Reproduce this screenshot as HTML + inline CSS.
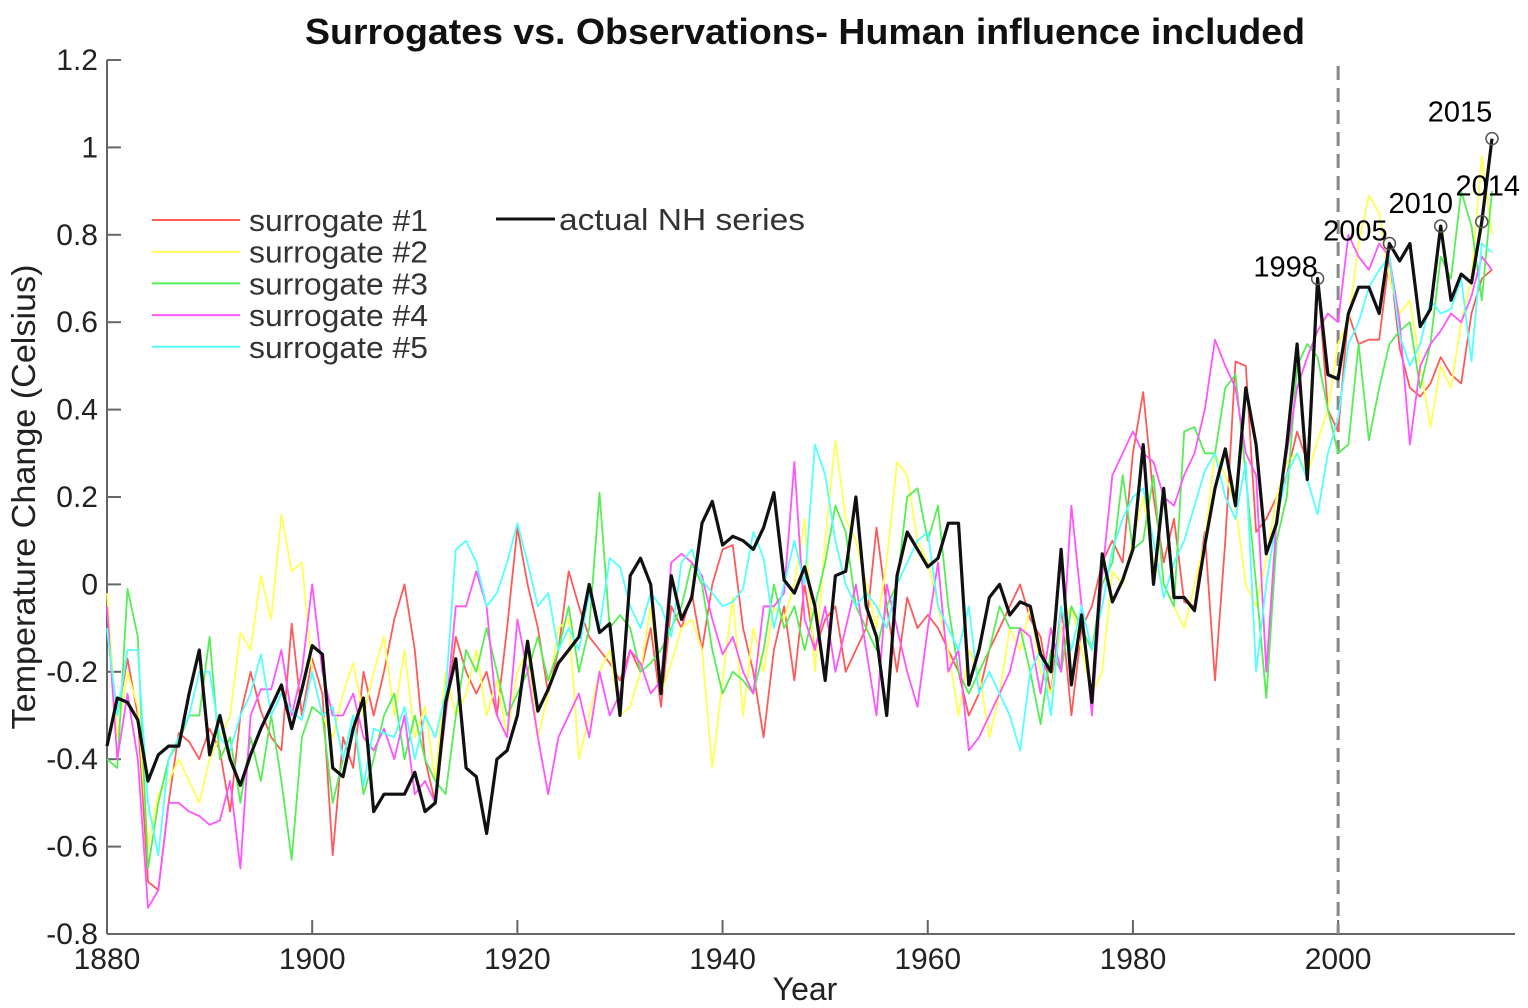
<!DOCTYPE html>
<html><head><meta charset="utf-8">
<style>
html,body{margin:0;padding:0;background:#fff;}
svg{display:block;font-family:"Liberation Sans",Arial,sans-serif;}
</style></head>
<body>
<svg id="chart" width="1528" height="1008" viewBox="0 0 1528 1008" xmlns="http://www.w3.org/2000/svg">
<text x="805" y="44" font-size="36" font-weight="bold" text-anchor="middle" fill="#111" textLength="1000" lengthAdjust="spacingAndGlyphs">Surrogates vs. Observations- Human influence included</text>
<text x="805" y="1000" font-size="32" text-anchor="middle" fill="#222">Year</text>
<text transform="translate(35,497) rotate(-90)" font-size="33" text-anchor="middle" fill="#222" textLength="465" lengthAdjust="spacingAndGlyphs">Temperature Change (Celsius)</text>
<g id="axes"></g>
<g id="series"></g>
<g id="legend"></g>
<g id="annots"></g>
</svg>
<script>
const startYear = 1880;
const yTicks = [-0.8,-0.6,-0.4,-0.2,0,0.2,0.4,0.6,0.8,1,1.2];
const yTickLabels = ["-0.8","-0.6","-0.4","-0.2","0","0.2","0.4","0.6","0.8","1","1.2"];
const xTicks = [1880,1900,1920,1940,1960,1980,2000];
const actualNH = [-0.37,-0.26,-0.27,-0.31,-0.45,-0.39,-0.37,-0.37,-0.25,-0.15,
-0.39,-0.30,-0.40,-0.46,-0.39,-0.33,-0.28,-0.23,-0.33,-0.24,
-0.14,-0.16,-0.42,-0.44,-0.33,-0.26,-0.52,-0.48,-0.48,-0.48,
-0.43,-0.52,-0.50,-0.27,-0.17,-0.42,-0.44,-0.57,-0.40,-0.38,
-0.30,-0.13,-0.29,-0.24,-0.18,-0.15,-0.12,0.0,-0.11,-0.09,
-0.30,0.02,0.06,0.0,-0.25,0.02,-0.08,-0.03,0.14,0.19,
0.09,0.11,0.10,0.08,0.13,0.21,0.01,-0.02,0.04,-0.05,
-0.22,0.02,0.03,0.20,-0.05,-0.12,-0.30,0.02,0.12,0.08,
0.04,0.06,0.14,0.14,-0.23,-0.15,-0.03,0.0,-0.07,-0.04,
-0.05,-0.16,-0.20,0.08,-0.23,-0.07,-0.27,0.07,-0.04,0.01,
0.08,0.32,0.0,0.22,-0.03,-0.03,-0.06,0.09,0.22,0.31,
0.18,0.45,0.32,0.07,0.14,0.32,0.55,0.24,0.70,0.48,
0.47,0.62,0.68,0.68,0.62,0.78,0.74,0.78,0.59,0.63,
0.82,0.65,0.71,0.69,0.83,1.02];
const surrogate1 = [-0.10,-0.30,-0.17,-0.30,-0.68,-0.70,-0.50,-0.34,-0.36,-0.40,
-0.33,-0.38,-0.52,-0.30,-0.20,-0.29,-0.35,-0.38,-0.09,-0.30,
-0.17,-0.25,-0.62,-0.35,-0.42,-0.20,-0.30,-0.20,-0.08,0.0,
-0.15,-0.40,-0.50,-0.30,-0.12,-0.20,-0.25,-0.20,-0.30,-0.10,
0.13,0.0,-0.10,-0.25,-0.15,0.03,-0.05,-0.12,-0.15,-0.18,
-0.22,-0.15,-0.20,-0.10,-0.28,-0.05,-0.10,-0.02,-0.15,0.00,
0.08,0.09,-0.10,-0.20,-0.35,-0.15,-0.05,-0.22,0.0,-0.15,
-0.08,-0.05,-0.20,-0.15,-0.10,0.13,-0.05,-0.20,-0.03,-0.10,
-0.07,-0.10,-0.15,-0.20,-0.30,-0.25,-0.15,-0.10,-0.05,0.0,
-0.08,-0.12,-0.25,-0.05,-0.30,-0.10,-0.05,0.05,0.10,0.05,
0.30,0.44,0.20,0.05,0.15,-0.04,-0.05,0.12,-0.22,0.10,
0.51,0.50,0.12,0.15,0.20,0.25,0.35,0.28,0.70,0.40,
0.35,0.62,0.55,0.56,0.56,0.75,0.54,0.45,0.43,0.46,
0.52,0.48,0.46,0.62,0.70,0.72];
const surrogate2 = [-0.02,-0.35,-0.20,-0.28,-0.60,-0.48,-0.45,-0.40,-0.45,-0.50,
-0.40,-0.35,-0.30,-0.11,-0.15,0.02,-0.08,0.16,0.03,0.05,
-0.20,-0.30,-0.35,-0.25,-0.18,-0.30,-0.20,-0.12,-0.30,-0.15,
-0.35,-0.28,-0.45,-0.20,-0.30,-0.25,-0.15,-0.30,-0.22,-0.35,
-0.20,-0.15,-0.35,-0.25,-0.10,-0.08,-0.40,-0.30,-0.20,-0.15,
-0.30,-0.28,-0.20,-0.05,-0.25,-0.18,-0.10,-0.08,-0.15,-0.42,
-0.22,-0.03,-0.30,-0.10,-0.20,-0.05,-0.08,0.00,0.15,-0.20,
0.10,0.33,0.15,0.10,0.0,-0.10,0.05,0.28,0.25,0.10,
0.05,-0.05,-0.15,-0.30,-0.15,-0.20,-0.35,-0.25,-0.10,-0.15,
-0.05,-0.20,-0.25,-0.10,-0.05,-0.15,-0.25,-0.20,0.03,0.0,
0.10,0.20,0.05,0.0,-0.05,-0.10,0.00,0.10,0.30,0.25,
0.18,0.0,-0.05,0.06,0.20,0.28,0.30,0.25,0.33,0.40,
0.55,0.60,0.78,0.89,0.85,0.70,0.62,0.65,0.50,0.36,
0.50,0.45,0.60,0.70,0.98,0.80];
const surrogate3 = [-0.40,-0.42,-0.01,-0.12,-0.65,-0.50,-0.40,-0.36,-0.30,-0.30,
-0.12,-0.40,-0.35,-0.50,-0.35,-0.45,-0.30,-0.45,-0.63,-0.35,
-0.28,-0.30,-0.50,-0.40,-0.30,-0.48,-0.40,-0.30,-0.25,-0.40,
-0.30,-0.40,-0.45,-0.48,-0.30,-0.15,-0.20,-0.10,-0.20,-0.30,
-0.25,-0.20,-0.12,-0.22,-0.15,-0.05,-0.20,-0.10,0.21,-0.10,
-0.07,-0.10,-0.20,-0.18,-0.15,-0.10,-0.05,0.05,0.0,-0.15,
-0.25,-0.20,-0.22,-0.25,-0.15,0.00,-0.10,-0.05,-0.15,-0.05,
0.05,0.18,0.12,-0.05,-0.10,-0.15,-0.05,0.0,0.20,0.22,
0.10,0.18,-0.05,-0.20,-0.25,-0.20,-0.15,-0.05,-0.10,-0.10,
-0.20,-0.32,-0.15,-0.20,-0.05,-0.10,-0.15,0.00,0.05,0.25,
0.08,0.10,0.25,0.0,-0.05,0.35,0.36,0.30,0.30,0.45,
0.48,0.25,0.0,-0.26,0.10,0.20,0.50,0.55,0.52,0.40,
0.30,0.32,0.55,0.33,0.45,0.55,0.58,0.60,0.45,0.55,
0.75,0.70,0.90,0.82,0.65,0.90];
const surrogate4 = [-0.05,-0.40,-0.25,-0.40,-0.74,-0.70,-0.50,-0.50,-0.52,-0.53,
-0.55,-0.54,-0.45,-0.65,-0.30,-0.24,-0.24,-0.15,-0.30,-0.20,
0.00,-0.20,-0.30,-0.30,-0.25,-0.35,-0.38,-0.33,-0.40,-0.30,
-0.48,-0.45,-0.50,-0.30,-0.05,-0.05,0.03,-0.05,-0.30,-0.35,
-0.08,-0.20,-0.35,-0.48,-0.35,-0.30,-0.25,-0.35,-0.20,-0.30,
-0.25,-0.15,-0.18,-0.25,-0.22,0.05,0.07,0.05,0.02,-0.08,
-0.16,-0.12,-0.20,-0.25,-0.05,-0.05,-0.02,0.28,-0.08,-0.15,
-0.05,-0.20,-0.10,0.0,-0.15,-0.30,0.0,-0.10,-0.20,-0.28,
-0.10,0.05,-0.20,-0.15,-0.38,-0.35,-0.30,-0.25,-0.20,-0.10,
-0.12,-0.25,-0.10,-0.20,0.18,-0.05,-0.30,0.02,0.25,0.30,
0.35,0.30,0.28,0.20,0.18,0.25,0.30,0.40,0.56,0.50,
0.45,0.30,0.25,-0.20,0.15,0.30,0.45,0.52,0.58,0.62,
0.60,0.80,0.75,0.72,0.78,0.75,0.60,0.32,0.50,0.55,
0.58,0.62,0.60,0.66,0.75,0.72];
const surrogate5 = [-0.10,-0.30,-0.15,-0.15,-0.50,-0.62,-0.40,-0.35,-0.30,-0.20,
-0.20,-0.35,-0.38,-0.30,-0.25,-0.16,-0.30,-0.25,-0.29,-0.31,
-0.20,-0.30,-0.28,-0.40,-0.30,-0.46,-0.33,-0.34,-0.35,-0.28,
-0.40,-0.30,-0.35,-0.25,0.08,0.10,0.05,-0.05,-0.02,0.05,
0.14,0.05,-0.05,-0.02,-0.15,-0.10,-0.15,-0.02,-0.10,0.06,
0.04,-0.05,-0.10,-0.02,-0.05,-0.12,0.05,0.08,0.01,-0.02,
-0.05,-0.04,-0.01,0.12,0.06,-0.10,0.0,0.10,0.0,0.32,
0.25,0.10,0.0,-0.05,-0.02,-0.05,-0.10,0.00,0.05,0.10,
0.12,-0.05,-0.10,-0.15,-0.05,-0.25,-0.20,-0.25,-0.30,-0.38,
-0.20,-0.15,-0.30,-0.05,-0.15,-0.05,-0.15,-0.05,0.08,0.15,
0.20,0.22,0.10,-0.03,0.05,0.10,0.18,0.26,0.30,0.20,
0.15,0.28,-0.20,0.0,0.15,0.25,0.30,0.24,0.16,0.30,
0.38,0.55,0.60,0.68,0.72,0.75,0.57,0.50,0.55,0.65,
0.62,0.63,0.70,0.51,0.78,0.76];
const highlightYears = [1998,2005,2010,2014,2015];

const NS = "http://www.w3.org/2000/svg";
const X0=107, X1=1515, YMINPX=934, YMAXPX=60;
const xMin=1880, xMax=2017.24, yMin=-0.8, yMax=1.2;
function xs(v){return X0+(v-xMin)/(xMax-xMin)*(X1-X0);}
function ys(v){return YMINPX-(v-yMin)/(yMax-yMin)*(YMINPX-YMAXPX);}
function mk(tag,attrs,parent){const e=document.createElementNS(NS,tag);for(const k in attrs)e.setAttribute(k,attrs[k]);parent.appendChild(e);return e;}

const axes=document.getElementById('axes');
let el=mk('line',{x1:X0,y1:YMAXPX,x2:X0,y2:YMINPX,stroke:'#666','stroke-width':2},axes);


el=mk('line',{x1:X0,y1:YMINPX,x2:X1,y2:YMINPX,stroke:'#666','stroke-width':2},axes);


yTicks.forEach((v,i)=>{
  const y=ys(v);
  const t=mk('line',{x1:X0,y1:y,x2:X0+14,y2:y,stroke:'#666','stroke-width':2},axes);
  
  
  const l=mk('text',{x:98,y:y+10,'font-size':30,'text-anchor':'end',fill:'#222'},axes);
  l.textContent=yTickLabels[i];
  
  
});
xTicks.forEach(v=>{
  const x=xs(v);
  const t=mk('line',{x1:x,y1:YMINPX,x2:x,y2:YMINPX-14,stroke:'#666','stroke-width':2},axes);
  
  
  const l=mk('text',{x:x,y:969,'font-size':30,'text-anchor':'middle',fill:'#222'},axes);
  l.textContent=String(v);
  
  
});
el=mk('line',{x1:xs(2000),y1:66,x2:xs(2000),y2:YMINPX,stroke:'#888','stroke-width':3,'stroke-dasharray':'14,8'},axes);



const sg=document.getElementById('series');
const sList=[[surrogate1,'#ff5a5a','surrogate-1-line'],[surrogate2,'#ffff55','surrogate-2-line'],[surrogate3,'#55ee55','surrogate-3-line'],[surrogate4,'#ff55ff','surrogate-4-line'],[surrogate5,'#55ffff','surrogate-5-line']];
function pts(arr){return arr.map((v,i)=>xs(startYear+i).toFixed(1)+','+ys(v).toFixed(1)).join(' ');}
sList.forEach(s=>{
  const p=mk('polyline',{points:pts(s[0]),fill:'none',stroke:s[1],'stroke-width':1.8,'stroke-linejoin':'round'},sg);
  
  
});
el=mk('polyline',{points:pts(actualNH),fill:'none',stroke:'#111','stroke-width':3.2,'stroke-linejoin':'round'},sg);



const lg=document.getElementById('legend');
const legNames=['surrogate #1','surrogate #2','surrogate #3','surrogate #4','surrogate #5'];
sList.forEach((s,i)=>{
  const y=220+i*31.7;
  const l=mk('line',{x1:152,y1:y,x2:240,y2:y,stroke:s[1],'stroke-width':2},lg);
  
  
  const t=mk('text',{x:249,y:y+11,'font-size':31,fill:'#333',textLength:179,lengthAdjust:'spacingAndGlyphs'},lg);
  t.textContent=legNames[i];
  
  
});
el=mk('line',{x1:496,y1:219,x2:555,y2:219,stroke:'#111','stroke-width':3},lg);


el=mk('text',{x:559,y:230,'font-size':31,fill:'#333',textLength:246,lengthAdjust:'spacingAndGlyphs'},lg);
el.textContent='actual NH series';



const an=document.getElementById('annots');
const labOff={1998:[-32,-2],2005:[-34,-3],2010:[-20,-13],2014:[6,-26],2015:[-32,-17]};
highlightYears.forEach(yr=>{
  const v=actualNH[yr-startYear];
  const cx=xs(yr), cy=ys(v);
  const c=mk('circle',{cx:cx,cy:cy,r:6,fill:'none',stroke:'#555','stroke-width':1.5},an);
  
  
  const o=labOff[yr];
  const t=mk('text',{x:cx+o[0],y:cy+o[1],'font-size':29,'text-anchor':'middle',fill:'#000'},an);
  t.textContent=String(yr);
  
  
});
</script>
</body></html>
